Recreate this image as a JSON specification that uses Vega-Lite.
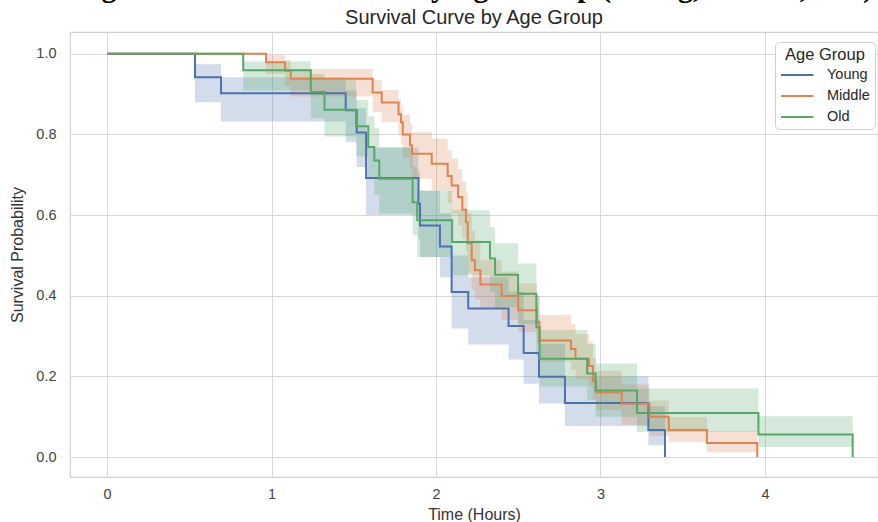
{
  "$schema": "https://vega.github.io/schema/vega-lite/v6.json",
  "width": 808,
  "height": 445,
  "autosize": {"type": "none"},
  "padding": {"left": 70, "top": 32, "right": 0, "bottom": 45},
  "background": "white",
  "title": {
    "text": "Figure 3: Survival Curves by Age Group (Young, Middle, Old)",
    "subtitle": "Survival Curve by Age Group",
    "font": "Liberation Serif",
    "fontSize": 30,
    "fontWeight": "bold",
    "color": "black",
    "subtitleFont": "Liberation Sans",
    "subtitleFontSize": 20,
    "subtitleColor": "#262626",
    "subtitlePadding": 5,
    "offset": 4,
    "anchor": "middle"
  },
  "datasets": {
    "km": [
      {"group": "Young", "t": 0, "s": 1.0, "lo": 1.0, "hi": 1.0},
      {"group": "Young", "t": 0.535, "s": 0.942, "lo": 0.880, "hi": 0.974},
      {"group": "Young", "t": 0.693, "s": 0.902, "lo": 0.832, "hi": 0.942},
      {"group": "Young", "t": 1.451, "s": 0.860, "lo": 0.781, "hi": 0.909},
      {"group": "Young", "t": 1.518, "s": 0.805, "lo": 0.719, "hi": 0.865},
      {"group": "Young", "t": 1.575, "s": 0.692, "lo": 0.600, "hi": 0.767},
      {"group": "Young", "t": 1.893, "s": 0.628, "lo": 0.540, "hi": 0.710},
      {"group": "Young", "t": 1.903, "s": 0.574, "lo": 0.496, "hi": 0.660},
      {"group": "Young", "t": 2.024, "s": 0.522, "lo": 0.446, "hi": 0.605},
      {"group": "Young", "t": 2.095, "s": 0.409, "lo": 0.319, "hi": 0.500},
      {"group": "Young", "t": 2.196, "s": 0.368, "lo": 0.279, "hi": 0.446},
      {"group": "Young", "t": 2.441, "s": 0.325, "lo": 0.242, "hi": 0.410},
      {"group": "Young", "t": 2.533, "s": 0.258, "lo": 0.182, "hi": 0.340},
      {"group": "Young", "t": 2.626, "s": 0.199, "lo": 0.133, "hi": 0.280},
      {"group": "Young", "t": 2.784, "s": 0.134, "lo": 0.077, "hi": 0.200},
      {"group": "Young", "t": 3.291, "s": 0.067, "lo": 0.029, "hi": 0.125},
      {"group": "Young", "t": 3.392, "s": 0.0, "lo": 0.0, "hi": 0.0},
      {"group": "Middle", "t": 0, "s": 1.0, "lo": 1.0, "hi": 1.0},
      {"group": "Middle", "t": 0.967, "s": 0.979, "lo": 0.950, "hi": 0.996},
      {"group": "Middle", "t": 1.082, "s": 0.958, "lo": 0.920, "hi": 0.985},
      {"group": "Middle", "t": 1.117, "s": 0.938, "lo": 0.894, "hi": 0.962},
      {"group": "Middle", "t": 1.615, "s": 0.904, "lo": 0.855, "hi": 0.934},
      {"group": "Middle", "t": 1.670, "s": 0.879, "lo": 0.831, "hi": 0.910},
      {"group": "Middle", "t": 1.772, "s": 0.850, "lo": 0.798, "hi": 0.888},
      {"group": "Middle", "t": 1.787, "s": 0.830, "lo": 0.775, "hi": 0.872},
      {"group": "Middle", "t": 1.798, "s": 0.800, "lo": 0.742, "hi": 0.848},
      {"group": "Middle", "t": 1.842, "s": 0.773, "lo": 0.713, "hi": 0.825},
      {"group": "Middle", "t": 1.854, "s": 0.752, "lo": 0.690, "hi": 0.806},
      {"group": "Middle", "t": 1.974, "s": 0.727, "lo": 0.661, "hi": 0.790},
      {"group": "Middle", "t": 2.071, "s": 0.697, "lo": 0.630, "hi": 0.762},
      {"group": "Middle", "t": 2.095, "s": 0.673, "lo": 0.604, "hi": 0.740},
      {"group": "Middle", "t": 2.134, "s": 0.645, "lo": 0.575, "hi": 0.714},
      {"group": "Middle", "t": 2.160, "s": 0.613, "lo": 0.542, "hi": 0.684},
      {"group": "Middle", "t": 2.182, "s": 0.582, "lo": 0.510, "hi": 0.655},
      {"group": "Middle", "t": 2.193, "s": 0.530, "lo": 0.457, "hi": 0.605},
      {"group": "Middle", "t": 2.217, "s": 0.488, "lo": 0.415, "hi": 0.562},
      {"group": "Middle", "t": 2.237, "s": 0.463, "lo": 0.390, "hi": 0.537},
      {"group": "Middle", "t": 2.270, "s": 0.428, "lo": 0.370, "hi": 0.488},
      {"group": "Middle", "t": 2.399, "s": 0.399, "lo": 0.340, "hi": 0.460},
      {"group": "Middle", "t": 2.500, "s": 0.364, "lo": 0.310, "hi": 0.430},
      {"group": "Middle", "t": 2.614, "s": 0.335, "lo": 0.280, "hi": 0.400},
      {"group": "Middle", "t": 2.629, "s": 0.289, "lo": 0.236, "hi": 0.352},
      {"group": "Middle", "t": 2.821, "s": 0.268, "lo": 0.216, "hi": 0.330},
      {"group": "Middle", "t": 2.848, "s": 0.244, "lo": 0.193, "hi": 0.305},
      {"group": "Middle", "t": 2.930, "s": 0.226, "lo": 0.176, "hi": 0.286},
      {"group": "Middle", "t": 2.954, "s": 0.188, "lo": 0.142, "hi": 0.245},
      {"group": "Middle", "t": 2.973, "s": 0.160, "lo": 0.117, "hi": 0.214},
      {"group": "Middle", "t": 3.129, "s": 0.132, "lo": 0.080, "hi": 0.180},
      {"group": "Middle", "t": 3.298, "s": 0.100, "lo": 0.052, "hi": 0.140},
      {"group": "Middle", "t": 3.415, "s": 0.067, "lo": 0.037, "hi": 0.099},
      {"group": "Middle", "t": 3.647, "s": 0.035, "lo": 0.012, "hi": 0.064},
      {"group": "Middle", "t": 3.953, "s": 0.0, "lo": 0.0, "hi": 0.0},
      {"group": "Old", "t": 0, "s": 1.0, "lo": 1.0, "hi": 1.0},
      {"group": "Old", "t": 0.828, "s": 0.959, "lo": 0.909, "hi": 0.981},
      {"group": "Old", "t": 1.239, "s": 0.905, "lo": 0.840, "hi": 0.950},
      {"group": "Old", "t": 1.322, "s": 0.861, "lo": 0.795, "hi": 0.934},
      {"group": "Old", "t": 1.514, "s": 0.820, "lo": 0.745, "hi": 0.885},
      {"group": "Old", "t": 1.588, "s": 0.769, "lo": 0.690, "hi": 0.845},
      {"group": "Old", "t": 1.625, "s": 0.735, "lo": 0.650, "hi": 0.815},
      {"group": "Old", "t": 1.655, "s": 0.690, "lo": 0.603, "hi": 0.768},
      {"group": "Old", "t": 1.858, "s": 0.632, "lo": 0.550, "hi": 0.719},
      {"group": "Old", "t": 1.886, "s": 0.587, "lo": 0.496, "hi": 0.660},
      {"group": "Old", "t": 2.098, "s": 0.533, "lo": 0.451, "hi": 0.612},
      {"group": "Old", "t": 2.328, "s": 0.492, "lo": 0.410, "hi": 0.570},
      {"group": "Old", "t": 2.359, "s": 0.452, "lo": 0.372, "hi": 0.530},
      {"group": "Old", "t": 2.499, "s": 0.405, "lo": 0.330, "hi": 0.480},
      {"group": "Old", "t": 2.610, "s": 0.322, "lo": 0.250, "hi": 0.400},
      {"group": "Old", "t": 2.630, "s": 0.244, "lo": 0.175, "hi": 0.315},
      {"group": "Old", "t": 2.919, "s": 0.207, "lo": 0.140, "hi": 0.280},
      {"group": "Old", "t": 2.970, "s": 0.165, "lo": 0.100, "hi": 0.232},
      {"group": "Old", "t": 3.222, "s": 0.109, "lo": 0.062, "hi": 0.170},
      {"group": "Old", "t": 3.960, "s": 0.056, "lo": 0.025, "hi": 0.101},
      {"group": "Old", "t": 4.533, "s": 0.0, "lo": 0.0, "hi": 0.0}
    ]
  },
  "data": {"name": "km"},
  "encoding": {
    "x": {
      "field": "t",
      "type": "quantitative",
      "title": "Time (Hours)",
      "scale": {"domain": [-0.225, 4.687], "nice": false, "zero": false},
      "axis": {"values": [0, 1, 2, 3, 4], "format": "d", "labelPadding": 10, "titlePadding": 6}
    },
    "color": {
      "field": "group",
      "type": "nominal",
      "scale": {"domain": ["Young", "Middle", "Old"], "range": ["#4c72b0", "#dd8452", "#55a868"]},
      "legend": {
        "title": "Age Group",
        "orient": "none",
        "legendX": 705,
        "legendY": 10,
        "symbolType": "M-1,0H2.4",
        "symbolSize": 361,
        "symbolStrokeWidth": 2,
        "strokeColor": "#d0d0d0",
        "fillColor": "white",
        "padding": 5,
        "cornerRadius": 4,
        "titleFontSize": 16.5,
        "titleFontWeight": "normal",
        "titleColor": "#262626",
        "titleAnchor": "middle",
        "titlePadding": 1,
        "labelFontSize": 14.5,
        "labelColor": "#262626",
        "labelOffset": 26,
        "rowPadding": 4
      }
    }
  },
  "layer": [
    {
      "mark": {"type": "area", "interpolate": "step-after", "fillOpacity": 0.25},
      "encoding": {
        "y": {"field": "lo", "type": "quantitative"},
        "y2": {"field": "hi"}
      }
    },
    {
      "mark": {"type": "line", "interpolate": "step-after", "strokeWidth": 2},
      "encoding": {
        "y": {
          "field": "s",
          "type": "quantitative",
          "title": "Survival Probability",
          "scale": {"domain": [-0.0495, 1.0539], "nice": false, "zero": false},
          "axis": {"values": [0, 0.2, 0.4, 0.6, 0.8, 1.0], "format": ".1f", "labelPadding": 14, "titlePadding": 10}
        }
      }
    }
  ],
  "config": {
    "font": "Liberation Sans",
    "view": {"stroke": "#d0d0d0", "strokeWidth": 1.2},
    "axis": {
      "grid": true,
      "gridColor": "#d8d8d8",
      "gridWidth": 1,
      "domain": false,
      "ticks": false,
      "labelFont": "Liberation Sans",
      "labelFontSize": 14.5,
      "labelColor": "#444444",
      "titleFont": "Liberation Sans",
      "titleFontSize": 16,
      "titleFontWeight": "normal",
      "titleColor": "#333333"
    }
  }
}
